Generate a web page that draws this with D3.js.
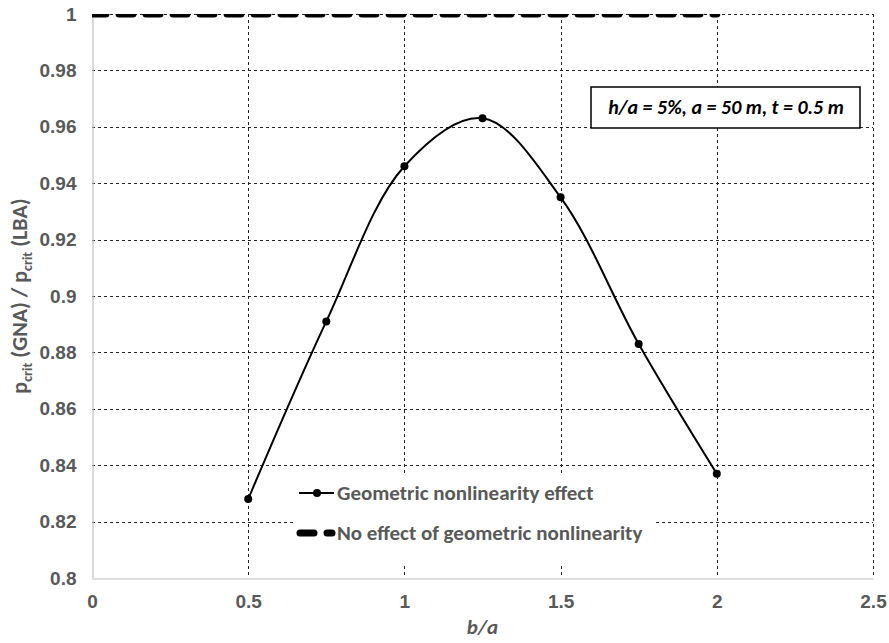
<!DOCTYPE html>
<html>
<head>
<meta charset="utf-8">
<script src="https://cdn.jsdelivr.net/npm/d3@7"></script>
<style>
  body { margin: 0; background: #fff; }
  svg { font-family: Carlito, Calibri, Lato, sans-serif; }
</style>
</head>
<body>
<svg id="chart" width="889" height="643"></svg>
<script>
// data
const ratioX = [0.5, 0.75, 1, 1.25, 1.5, 1.75, 2];
const ratioY = [0.828, 0.891, 0.946, 0.963, 0.935, 0.883, 0.837];
const noEffectX = [0, 2];
const noEffectY = [1, 1];
const xTicks = [0, 0.5, 1, 1.5, 2, 2.5];
const yTicks = [0.8, 0.82, 0.84, 0.86, 0.88, 0.9, 0.92, 0.94, 0.96, 0.98, 1];
const seriesNames = ["Geometric nonlinearity effect", "No effect of geometric nonlinearity"];
const noteText = "h/a = 5%, a = 50 m, t = 0.5 m";

const svg = d3.select("#chart");
const width = +svg.attr("width");
const height = +svg.attr("height");
const margin = { top: 14, right: 16, bottom: 65, left: 92 };
const grey = "#595959";

// scales
const x = d3.scaleLinear().domain([0, 2.5]).range([margin.left, width - margin.right]);
const y = d3.scaleLinear().domain([0.8, 1]).range([height - margin.bottom, margin.top]);

svg.append("defs").append("clipPath").attr("id", "plotClip")
  .append("rect")
  .attr("x", margin.left).attr("y", margin.top)
  .attr("width", x(2.5) - x(0)).attr("height", y(0.8) - y(1));

// grid
const grid = svg.append("g");
grid.selectAll(".hg").data(yTicks.filter(d => d > 0.8)).enter().append("line")
  .attr("x1", x(0)).attr("x2", x(2.5))
  .attr("y1", d => Math.round(y(d)) + 0.5).attr("y2", d => Math.round(y(d)) + 0.5)
  .attr("stroke", "#222").attr("stroke-width", 1).attr("stroke-dasharray", "3,3");
grid.selectAll(".vg").data(xTicks.filter(d => d > 0)).enter().append("line")
  .attr("x1", d => Math.round(x(d)) + 0.5).attr("x2", d => Math.round(x(d)) + 0.5)
  .attr("y1", y(1)).attr("y2", y(0.8))
  .attr("stroke", "#222").attr("stroke-width", 1).attr("stroke-dasharray", "3,3");

// axes
const xAxis = svg.append("g")
  .attr("transform", `translate(0, ${Math.round(y(0.8)) + 0.5})`)
  .call(d3.axisBottom(x).tickValues(xTicks).tickSize(0).tickPadding(16).tickFormat(d => String(d)));
const yAxis = svg.append("g")
  .attr("transform", `translate(${Math.round(x(0)) + 0.5}, 0)`)
  .call(d3.axisLeft(y).tickValues(yTicks).tickSize(0).tickPadding(16).tickFormat(d => String(+d.toFixed(2))));
[xAxis, yAxis].forEach(a => {
  a.select(".domain").attr("stroke", "#bfbfbf").attr("stroke-width", 1.2);
  a.selectAll("text").attr("fill", grey).attr("font-size", "19px").attr("font-weight", "bold");
});

// axis titles
svg.append("text")
  .attr("x", (x(0) + x(2.5)) / 2).attr("y", 634)
  .attr("text-anchor", "middle").attr("fill", grey)
  .attr("font-size", "21px").attr("font-weight", "bold").attr("font-style", "italic")
  .text("b/a");

const yTitle = svg.append("text")
  .attr("transform", `translate(27, ${(y(0.8) + y(1)) / 2}) rotate(-90)`)
  .attr("text-anchor", "middle").attr("fill", grey)
  .attr("font-size", "22px").attr("font-weight", "bold");
yTitle.append("tspan").text("p");
yTitle.append("tspan").attr("font-size", "14px").attr("dy", 5).text("crit");
yTitle.append("tspan").attr("dy", -5).text(" (GNA) / p");
yTitle.append("tspan").attr("font-size", "14px").attr("dy", 5).text("crit");
yTitle.append("tspan").attr("dy", -5).text(" (LBA)");

// series
const plot = svg.append("g").attr("clip-path", "url(#plotClip)");

plot.append("path")
  .datum(noEffectX.map((v, i) => [v, noEffectY[i]]))
  .attr("fill", "none").attr("stroke", "#000").attr("stroke-width", 7)
  .attr("stroke-linecap", "round").attr("stroke-dasharray", "14,13")
  .attr("d", d3.line().x(d => x(d[0])).y(d => y(d[1])));

const pts = ratioX.map((v, i) => [v, ratioY[i]]);
plot.append("path")
  .datum(pts)
  .attr("fill", "none").attr("stroke", "#000").attr("stroke-width", 2)
  .attr("d", d3.line().x(d => x(d[0])).y(d => y(d[1])).curve(d3.curveCatmullRom.alpha(0.5)));

plot.selectAll("circle").data(pts).enter().append("circle")
  .attr("cx", d => x(d[0])).attr("cy", d => y(d[1])).attr("r", 4).attr("fill", "#000");

// annotation box
const note = svg.append("g");
note.append("rect")
  .attr("x", 591).attr("y", 87).attr("width", 269).attr("height", 41)
  .attr("fill", "#fff").attr("stroke", "#000").attr("stroke-width", 1.5);
note.append("text")
  .attr("x", 726).attr("y", 114).attr("text-anchor", "middle")
  .attr("font-size", "20px").attr("font-weight", "bold").attr("font-style", "italic")
  .attr("fill", "#000").text(noteText);

// legend
const legend = svg.append("g");
legend.append("rect")
  .attr("x", 293).attr("y", 473).attr("width", 363).attr("height", 92).attr("fill", "#fff");

const lg1 = legend.append("g").attr("transform", "translate(299, 493)");
lg1.append("line").attr("x1", 0).attr("x2", 35).attr("stroke", "#000").attr("stroke-width", 2);
lg1.append("circle").attr("cx", 18).attr("r", 4).attr("fill", "#000");
lg1.append("text").attr("x", 38).attr("dy", "0.35em")
  .attr("fill", grey).attr("font-size", "21px").attr("font-weight", "bold").text(seriesNames[0]);

const lg2 = legend.append("g").attr("transform", "translate(299, 533)");
lg2.append("line").attr("x1", 1).attr("x2", 33).attr("stroke", "#000").attr("stroke-width", 7)
  .attr("stroke-linecap", "round").attr("stroke-dasharray", "14,13");
lg2.append("text").attr("x", 38).attr("dy", "0.35em")
  .attr("fill", grey).attr("font-size", "21px").attr("font-weight", "bold").text(seriesNames[1]);
</script>
</body>
</html>
